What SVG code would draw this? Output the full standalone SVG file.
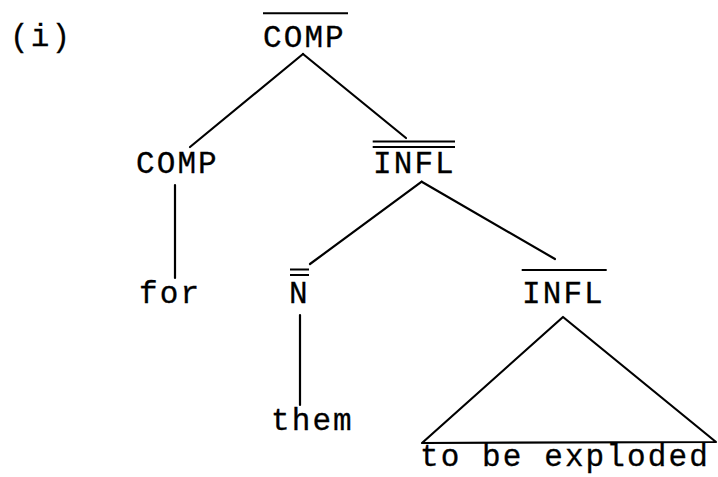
<svg xmlns="http://www.w3.org/2000/svg" width="718" height="477" viewBox="0 0 718 477">
<style>
text{font-family:"Liberation Mono","DejaVu Sans Mono",monospace;font-size:31px;letter-spacing:2.1px;fill:#000;stroke:#000;stroke-width:0.3}
.l{stroke:#000;stroke-width:2.2;fill:none;stroke-linecap:round;stroke-linejoin:round}
.b{stroke:#000;stroke-width:2;fill:none}
</style>
<rect width="718" height="477" fill="#fff"/>
<text x="10" y="46">(i)</text>
<g id="connectors">
<line class="l" x1="303" y1="54" x2="190" y2="147"/>
<line class="l" x1="303" y1="54" x2="406" y2="138"/>
<line class="l" x1="175" y1="185" x2="175" y2="278"/>
<line class="l" x1="421.7" y1="181.7" x2="310" y2="264"/>
<line class="l" x1="421.7" y1="181.7" x2="555" y2="259"/>
<line class="l" x1="300" y1="315" x2="300" y2="405"/>
<polygon class="l" points="563,317 422,443 716,442"/>
</g>
<g id="n-compbar">
<line class="b" x1="263" y1="13.3" x2="348" y2="13.3"/>
<text x="263" y="47">COMP</text>
</g>
<g id="n-comp">
<text x="136" y="173">COMP</text>
</g>
<g id="n-inflbarbar">
<line class="b" x1="372.7" y1="141.5" x2="455" y2="141.5"/>
<line class="b" x1="372.7" y1="147" x2="455" y2="147"/>
<text x="373" y="173">INFL</text>
</g>
<g id="n-for">
<text x="139" y="303">for</text>
</g>
<g id="n-nbarbar">
<line class="b" x1="290" y1="269.5" x2="309" y2="269.5"/>
<line class="b" x1="290" y1="275" x2="309" y2="275"/>
<text x="289" y="303">N</text>
</g>
<g id="n-inflbar">
<line class="b" x1="521.7" y1="270" x2="606.7" y2="270"/>
<text x="522" y="303">INFL</text>
</g>
<g id="n-them">
<text x="271" y="430">them</text>
</g>
<g id="n-tobeexploded">
<text x="420" y="466">to be exploded</text>
</g>
</svg>
